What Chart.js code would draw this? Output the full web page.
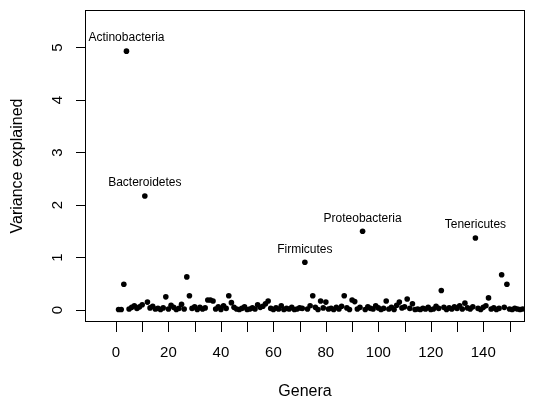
<!DOCTYPE html>
<html lang="en">
<head>
    <meta charset="UTF-8">
    <title>Variance explained by genera</title>
    <script src="https://cdn.jsdelivr.net/npm/chart.js"></script>
    <style>
        body {
            margin: 0;
            padding: 0;
            background-color: white;
        }
        #wrap {
            width: 550px;
            height: 402px;
        }
    </style>
</head>
<body>

<div id="wrap">
    <canvas id="grafico" width="550" height="402"></canvas>
</div>

<script>
    // variance explained per genus (genus index 1..155)
    const varianza = [
        0.01, 0.01, 0.49, 4.93, 0.02, 0.05, 0.08, 0.03, 0.06, 0.10,
        2.17, 0.15, 0.04, 0.07, 0.02, 0.03, 0.01, 0.04, 0.25, 0.02,
        0.09, 0.05, 0.01, 0.03, 0.11, 0.02, 0.63, 0.27, 0.03, 0.06,
        0.01, 0.05, 0.02, 0.04, 0.19, 0.19, 0.17, 0.02, 0.06, 0.01,
        0.08, 0.03, 0.27, 0.14, 0.05, 0.02, 0.01, 0.03, 0.06, 0.01,
        0.02, 0.04, 0.02, 0.10, 0.05, 0.07, 0.12, 0.17, 0.03, 0.01,
        0.04, 0.02, 0.08, 0.01, 0.03, 0.02, 0.05, 0.01, 0.02, 0.04,
        0.03, 0.91, 0.02, 0.08, 0.27, 0.05, 0.01, 0.17, 0.04, 0.15,
        0.02, 0.03, 0.01, 0.05, 0.02, 0.07, 0.27, 0.04, 0.01, 0.19,
        0.16, 0.02, 0.05, 1.50, 0.01, 0.06, 0.03, 0.02, 0.08, 0.04,
        0.01, 0.03, 0.17, 0.02, 0.05, 0.01, 0.09, 0.15, 0.04, 0.06,
        0.21, 0.03, 0.12, 0.01, 0.02, 0.01, 0.03, 0.02, 0.05, 0.01,
        0.02, 0.07, 0.03, 0.37, 0.05, 0.01, 0.04, 0.02, 0.06, 0.03,
        0.08, 0.02, 0.13, 0.04, 0.02, 0.06, 1.37, 0.03, 0.01, 0.05,
        0.08, 0.23, 0.02, 0.04, 0.01, 0.03, 0.67, 0.05, 0.49, 0.02,
        0.01, 0.03, 0.02, 0.01, 0.02
    ];

    // phylum labels and the genus they sit over
    const etiquetas = ['Actinobacteria', 'Bacteroidetes', 'Firmicutes', 'Proteobacteria', 'Tenericutes'];
    const posEtiquetas = [4, 11, 72, 94, 137];

    const ticksX = [0, 10, 20, 30, 40, 50, 60, 70, 80, 90, 100, 110, 120, 130, 140, 150];
    const etiquetasX = [0, 20, 40, 60, 80, 100, 120, 140];
    const ticksY = [0, 1, 2, 3, 4, 5];

    const puntos = varianza.map((v, i) => ({ x: i + 1, y: v }));

    const fuente = '"Liberation Sans", Arial, Helvetica, sans-serif';

    // R-style box, axes, titles and text labels
    const ejesR = {
        id: 'ejesR',
        afterDraw(chart) {
            const ctx = chart.ctx;
            const area = chart.chartArea;
            const sx = chart.scales.x;
            const sy = chart.scales.y;
            ctx.save();
            ctx.strokeStyle = '#000';
            ctx.fillStyle = '#000';
            ctx.lineWidth = 1;

            // box
            ctx.strokeRect(area.left + 0.5, area.top + 0.5, area.right - area.left - 1, area.bottom - area.top - 1);

            // x ticks
            ctx.beginPath();
            ticksX.forEach(t => {
                const px = Math.round(sx.getPixelForValue(t)) + 0.5;
                ctx.moveTo(px, area.bottom);
                ctx.lineTo(px, area.bottom + 10);
            });
            // y ticks
            ticksY.forEach(t => {
                const py = Math.round(sy.getPixelForValue(t)) + 0.5;
                ctx.moveTo(area.left, py);
                ctx.lineTo(area.left - 9, py);
            });
            ctx.stroke();

            ctx.font = '15px ' + fuente;
            ctx.textAlign = 'center';
            ctx.textBaseline = 'middle';
            etiquetasX.forEach(t => {
                ctx.fillText(String(t), sx.getPixelForValue(t), 353);
            });
            ticksY.forEach(t => {
                ctx.save();
                ctx.translate(58, sy.getPixelForValue(t));
                ctx.rotate(-Math.PI / 2);
                ctx.fillText(String(t), 0, 0);
                ctx.restore();
            });

            // axis titles
            ctx.font = '16px ' + fuente;
            ctx.fillText('Genera', (area.left + area.right) / 2, 392);
            ctx.save();
            ctx.translate(18, (area.top + area.bottom) / 2);
            ctx.rotate(-Math.PI / 2);
            ctx.fillText('Variance explained', 0, 0);
            ctx.restore();

            // phylum labels
            ctx.font = '12px ' + fuente;
            etiquetas.forEach((nombre, k) => {
                const idx = posEtiquetas[k];
                const px = sx.getPixelForValue(idx);
                const py = sy.getPixelForValue(varianza[idx - 1]);
                ctx.fillText(nombre, px, py - 13);
            });
            ctx.restore();
        }
    };

    new Chart(document.getElementById('grafico').getContext('2d'), {
        type: 'scatter',
        data: {
            datasets: [{
                data: puntos,
                backgroundColor: '#000',
                borderColor: '#000',
                borderWidth: 0,
                pointRadius: 2.8
            }]
        },
        options: {
            responsive: false,
            animation: false,
            layout: {
                padding: { left: 85, right: 25, top: 10, bottom: 80 }
            },
            scales: {
                x: { type: 'linear', display: false, min: -11.8, max: 155.9 },
                y: { type: 'linear', display: false, min: -0.229, max: 5.714 }
            },
            plugins: {
                legend: { display: false },
                tooltip: { enabled: false }
            }
        },
        plugins: [ejesR]
    });
</script>

</body>
</html>
